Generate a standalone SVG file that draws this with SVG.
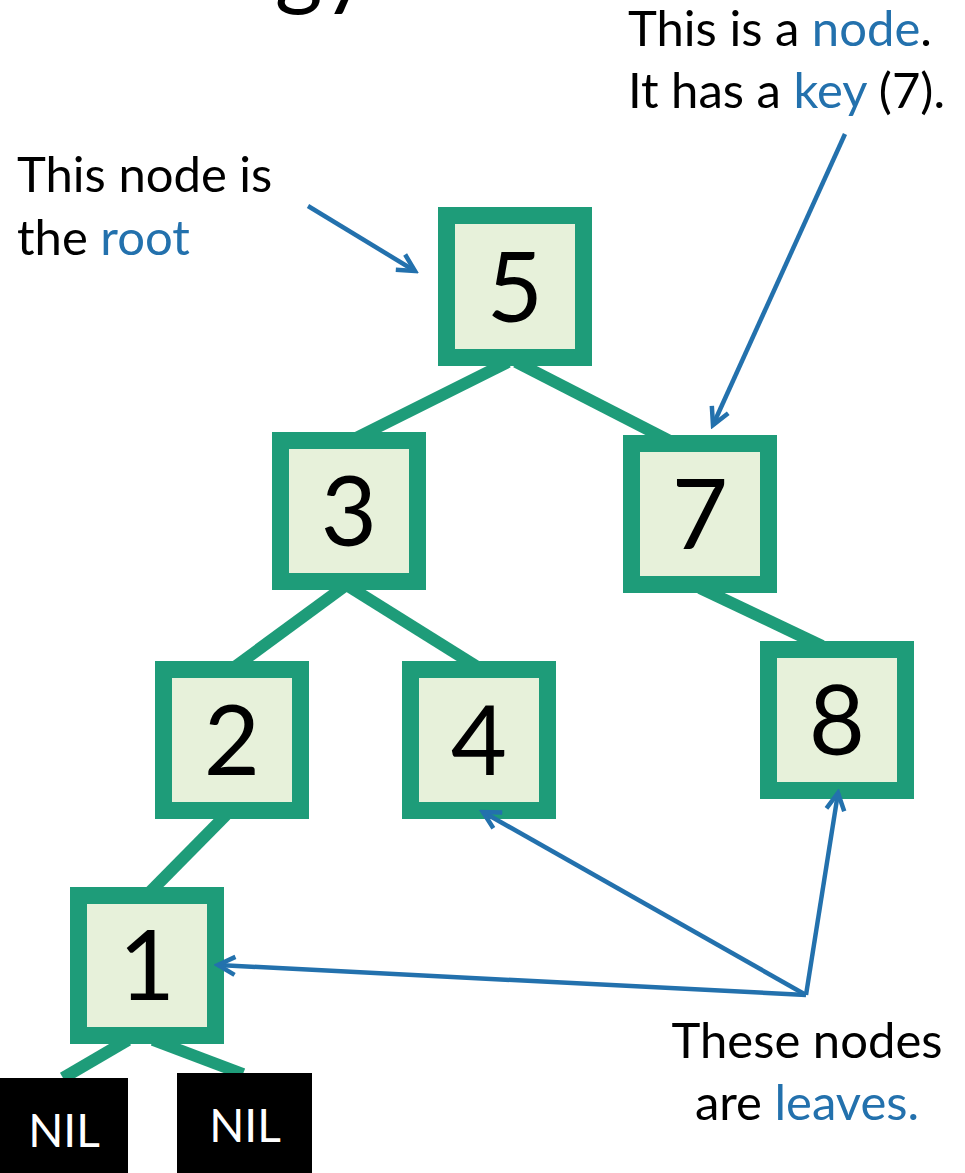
<svg xmlns="http://www.w3.org/2000/svg" width="965" height="1173" viewBox="0 0 965 1173">
<style>
.box{fill:#e7f1da;stroke:#1e9c79;stroke-width:17}
.key{font-family:Lato,"Liberation Sans",sans-serif;font-size:97px;fill:#000;text-anchor:middle}
.edge{stroke:#1e9c79;stroke-width:12;fill:none}
.ptr{stroke:#2371ad;stroke-width:4.5;fill:none;marker-end:url(#arr)}
.lbl{font-family:Lato,"Liberation Sans",sans-serif;font-size:49px;fill:#000}
.hl{fill:#2371ad}
.nil{fill:#000}
.niltxt{font-family:Lato,"Liberation Sans",sans-serif;font-size:46px;fill:#fff;text-anchor:middle}
</style>
<defs>
<marker id="arr" markerUnits="userSpaceOnUse" viewBox="0 0 24 24" markerWidth="24" markerHeight="24" refX="20" refY="12" orient="auto">
<path d="M3,3 L20,12 L3,21" fill="none" stroke="#2371ad" stroke-width="4.5" stroke-linejoin="miter"/>
</marker>
</defs>
<rect width="965" height="1173" fill="#fff"/>
<text x="370" y="-2" class="lbl" style="font-size:92px" text-anchor="end">gy</text>
<g id="connectors">
<line class="edge" x1="508" y1="362" x2="356" y2="438"/>
<line class="edge" x1="516" y1="362" x2="672" y2="442"/>
<line class="edge" x1="345" y1="586" x2="236" y2="666"/>
<line class="edge" x1="348" y1="586" x2="476" y2="666"/>
<line class="edge" x1="700" y1="588" x2="822" y2="646"/>
<line class="edge" x1="226" y1="815" x2="150" y2="892"/>
<line class="edge" x1="128" y1="1040" x2="63" y2="1078"/>
<line class="edge" x1="153" y1="1040" x2="243" y2="1074"/>
</g>
<g id="node5"><rect class="box" x="446.5" y="215.5" width="137" height="142"/><text class="key" x="515" y="322">5</text></g>
<g id="node3"><rect class="box" x="280.5" y="440.5" width="137" height="141"/><text class="key" x="349" y="546">3</text></g>
<g id="node7"><rect class="box" x="631.5" y="443.5" width="137" height="141"/><text class="key" x="700" y="549">7</text></g>
<g id="node2"><rect class="box" x="163.5" y="669.5" width="137" height="141"/><text class="key" x="232" y="775">2</text></g>
<g id="node4"><rect class="box" x="410.5" y="669.5" width="137" height="141"/><text class="key" x="479" y="775">4</text></g>
<g id="node8"><rect class="box" x="768.5" y="649.5" width="137" height="141"/><text class="key" x="837" y="755">8</text></g>
<g id="node1"><rect class="box" x="78.5" y="895.5" width="137" height="140"/><text class="key" x="147" y="1000">1</text></g>
<g id="nilL"><rect class="nil" x="0" y="1078" width="128" height="95"/><text class="niltxt" x="64" y="1147">NIL</text></g>
<g id="nilR"><rect class="nil" x="177" y="1073" width="135" height="100"/><text class="niltxt" x="245" y="1142">NIL</text></g>
<g id="pointers">
<line class="ptr" x1="308" y1="206" x2="415" y2="271"/>
<line class="ptr" x1="845" y1="134" x2="713" y2="425"/>
<line class="ptr" x1="806" y1="995" x2="218" y2="965"/>
<line class="ptr" x1="806" y1="995" x2="483" y2="812"/>
<line class="ptr" x1="806" y1="995" x2="838" y2="793"/>
</g>
<g id="labels">
<text class="lbl" x="17" y="192">This node is</text>
<text class="lbl" x="17" y="255">the <tspan class="hl">root</tspan></text>
<text class="lbl" x="628" y="46">This is a <tspan class="hl">node</tspan>.</text>
<text class="lbl" x="628" y="108">It has a <tspan class="hl">key</tspan> (7).</text>
<text class="lbl" x="807" y="1058" text-anchor="middle">These nodes</text>
<text class="lbl" x="807" y="1120" text-anchor="middle">are <tspan class="hl">leaves.</tspan></text>
</g>
</svg>
